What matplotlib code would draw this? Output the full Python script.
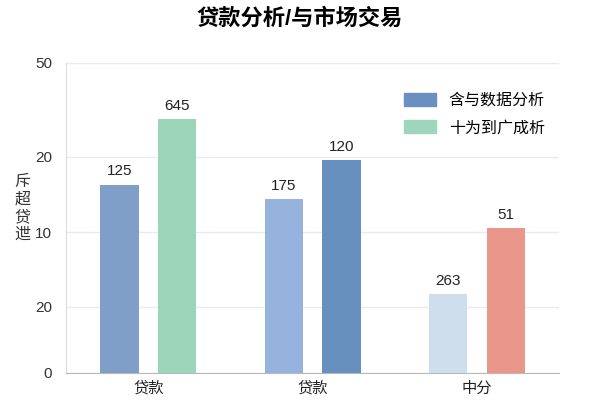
import matplotlib
matplotlib.use("Agg")
import matplotlib.pyplot as plt
from matplotlib.patches import Patch

plt.rcParams['font.family'] = ['Liberation Sans', 'Noto Sans CJK SC', 'DejaVu Sans']

categories = ["贷款", "贷款", "中分"]
# bar heights (in axis units 0-50)
left_vals = [30.4, 28.1, 12.7]
right_vals = [41.0, 34.3, 23.4]
# printed value labels
left_text = ["125", "175", "263"]
right_text = ["645", "120", "51"]
left_colors = ["#7f9fc8", "#95b3dc", "#cfdeed"]
right_colors = ["#9dd5bb", "#6790bf", "#e9978b"]

ytick_pos = [0, 10.65, 22.74, 34.84, 50]
ytick_labels = ["0", "20", "10", "20", "50"]

legend_names = ["含与数据分析", "十为到广成析"]
legend_colors = ["#6b8fc0", "#9fd4bd"]

title = "贷款分析/与市场交易"
ylabel = "斥\n超\n贷\n迣"

fig = plt.figure(figsize=(6, 4), dpi=100)
ax = fig.add_axes([0.11, 0.0675, 0.822, 0.775])

x = list(range(len(categories)))
w = 0.233
off = 0.175
bl = ax.bar([i - off for i in x], left_vals, w, color=left_colors, zorder=3)
br = ax.bar([i + off for i in x], right_vals, w, color=right_colors, zorder=3)

for bars, texts in [(bl, left_text), (br, right_text)]:
    for b, t in zip(bars, texts):
        ax.text(b.get_x() + b.get_width() / 2, b.get_height() + 1.0, t,
                ha="center", va="bottom", fontsize=11, color="#222222")

ax.set_xlim(-0.5, 2.5)
ax.set_ylim(0, 50)
ax.set_xticks(x)
ax.set_xticklabels(categories, fontsize=11, color="#222222")
ax.set_yticks(ytick_pos)
ax.set_yticklabels(ytick_labels, fontsize=11, color="#333333")
ax.tick_params(length=0, pad=6)
ax.tick_params(axis="y", pad=10)
ax.yaxis.grid(True, color="#ebebeb", linewidth=1, zorder=0)

for s in ["top", "right"]:
    ax.spines[s].set_visible(False)
ax.spines["left"].set_color("#dcdcdc")
ax.spines["bottom"].set_color("#b8b8b8")

fig.text(0.038, 0.48, ylabel, ha="center", va="center", fontsize=11.5,
         color="#333333", linespacing=1.05, family=['Noto Sans CJK SC'])

handles = [Patch(color=c) for c in legend_colors]
ax.legend(handles, legend_names, loc="upper right", bbox_to_anchor=(1.0, 0.95),
          frameon=False, fontsize=11.5, handlelength=2.0, handleheight=0.9,
          labelspacing=0.75, handletextpad=0.8)

fig.suptitle(title, x=0.5, y=0.98, fontsize=16, fontweight="bold")

fig.savefig("out.png", dpi=100)
